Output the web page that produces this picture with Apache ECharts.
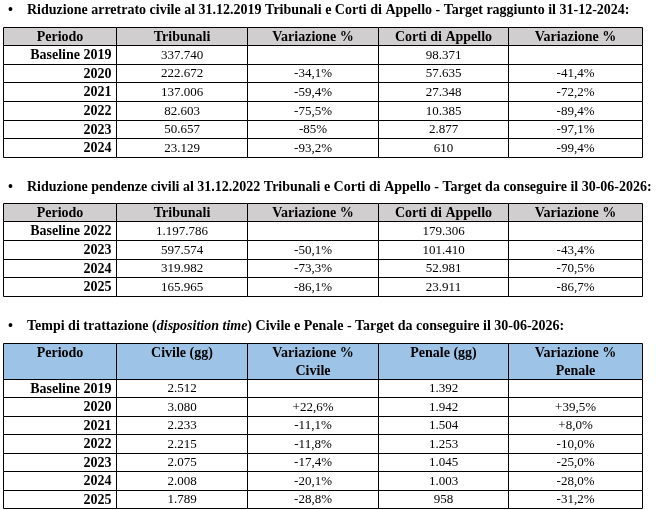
<!DOCTYPE html>
<html>
<head>
<meta charset="utf-8">
<script src="https://cdn.jsdelivr.net/npm/echarts@6/dist/echarts.min.js"></script>
<style>
  html, body { margin: 0; padding: 0; background: #fff; }
  #main { width: 657px; height: 510px; }
</style>
</head>
<body>
<div id="main"></div>
<script>
// --- dati tabella 1: arretrato civile al 31.12.2019
var periodi1 = ['Baseline 2019', '2020', '2021', '2022', '2023', '2024'];
var tribunali1 = [337740, 222672, 137006, 82603, 50657, 23129];
var varTribunali1 = [null, -34.1, -59.4, -75.5, -85, -93.2];
var corti1 = [98371, 57635, 27348, 10385, 2877, 610];
var varCorti1 = [null, -41.4, -72.2, -89.4, -97.1, -99.4];

// --- dati tabella 2: pendenze civili al 31.12.2022
var periodi2 = ['Baseline 2022', '2023', '2024', '2025'];
var tribunali2 = [1197786, 597574, 319982, 165965];
var varTribunali2 = [null, -50.1, -73.3, -86.1];
var corti2 = [179306, 101410, 52981, 23911];
var varCorti2 = [null, -43.4, -70.5, -86.7];

// --- dati tabella 3: disposition time
var periodi3 = ['Baseline 2019', '2020', '2021', '2022', '2023', '2024', '2025'];
var civile3 = [2512, 3080, 2233, 2215, 2075, 2008, 1789];
var varCivile3 = [null, 22.6, -11.1, -11.8, -17.4, -20.1, -28.8];
var penale3 = [1392, 1942, 1504, 1253, 1045, 1003, 958];
var varPenale3 = [null, 39.5, 8.0, -10.0, -25.0, -28.0, -31.2];

var header12 = ['Periodo', 'Tribunali', 'Variazione %', 'Corti di Appello', 'Variazione %'];
var header3 = ['Periodo', 'Civile (gg)', 'Variazione %\nCivile', 'Penale (gg)', 'Variazione %\nPenale'];

var titoli = [
    '{b|Riduzione arretrato civile al 31.12.2019 Tribunali e Corti di Appello - Target raggiunto il 31-12-2024:}',
    '{b|Riduzione pendenze civili al 31.12.2022 Tribunali e Corti di Appello - Target da conseguire il 30-06-2026:}',
    '{b|Tempi di trattazione (}{i|disposition time}{b|) Civile e Penale - Target da conseguire il 30-06-2026}{n|:}'
];

// layout
var colEdges = [0, 113, 244, 375, 505, 639];
var FONT = 'Liberation Serif';

function migliaia(v) {
    return String(v).replace(/\B(?=(\d{3})+(?!\d))/g, '.');
}
function perc(v) {
    if (v === null) return '';
    return String(v).replace('.', ',') + '%';
}
function percSegno(v) {
    if (v === null) return '';
    return (v > 0 ? '+' : '') + v.toFixed(1).replace('.', ',') + '%';
}

function buildCells(header, periodi, cols) {
    var cells = [];
    header.forEach(function (h, c) {
        cells.push({ c: c, r: 0, text: h, head: true });
    });
    periodi.forEach(function (p, i) {
        cells.push({ c: 0, r: i + 1, text: p, first: true });
        cols.forEach(function (col, j) {
            cells.push({ c: j + 1, r: i + 1, text: col[i] });
        });
    });
    return cells;
}

var tabelle = [
    {
        top: 27, headH: 18, rowH: 18.67, headColor: '#d0cece', headTop: false,
        cells: buildCells(header12, periodi1, [
            tribunali1.map(migliaia), varTribunali1.map(perc),
            corti1.map(migliaia), varCorti1.map(perc)])
    },
    {
        top: 203, headH: 18, rowH: 18.75, headColor: '#d0cece', headTop: false,
        cells: buildCells(header12, periodi2, [
            tribunali2.map(migliaia), varTribunali2.map(perc),
            corti2.map(migliaia), varCorti2.map(perc)])
    },
    {
        top: 343, headH: 36, rowH: 18.43, headColor: '#9dc3e6', headTop: true,
        cells: buildCells(header3, periodi3, [
            civile3.map(migliaia), varCivile3.map(percSegno),
            penale3.map(migliaia), varPenale3.map(percSegno)])
    }
];
tabelle[0].nRows = periodi1.length;
tabelle[1].nRows = periodi2.length;
tabelle[2].nRows = periodi3.length;

var grid = [], xAxis = [], yAxis = [], series = [];
tabelle.forEach(function (t, k) {
    var h = t.headH + t.nRows * t.rowH;
    grid.push({ left: 3, top: t.top, width: colEdges[5], height: h });
    xAxis.push({ type: 'value', gridIndex: k, min: 0, max: colEdges[5], show: false });
    yAxis.push({ type: 'value', gridIndex: k, min: 0, max: h, inverse: true, show: false });

    function rowEdge(r) {
        return r === 0 ? 0 : t.headH + (r - 1) * t.rowH;
    }

    series.push({
        type: 'custom',
        xAxisIndex: k,
        yAxisIndex: k,
        silent: true,
        data: t.cells.map(function (c) { return [c.c, c.r]; }),
        renderItem: function (params, api) {
            var cell = t.cells[params.dataIndex];
            var c = api.value(0), r = api.value(1);
            var p0 = api.coord([colEdges[c], rowEdge(r)]);
            var p1 = api.coord([colEdges[c + 1], rowEdge(r + 1)]);
            var x0 = Math.round(p0[0]) + 0.5, y0 = Math.round(p0[1]) + 0.5;
            var x1 = Math.round(p1[0]) + 0.5, y1 = Math.round(p1[1]) + 0.5;
            var bold = cell.head || cell.first;
            var tx, align;
            if (cell.first) { tx = x1 - 5; align = 'right'; }
            else { tx = (x0 + x1) / 2; align = 'center'; }
            var ty, valign;
            if (cell.head && t.headTop) { ty = y0 + 1; valign = 'top'; }
            else { ty = (y0 + y1) / 2 + 0.5; valign = 'middle'; }
            return {
                type: 'group',
                children: [
                    {
                        type: 'rect',
                        shape: { x: x0, y: y0, width: x1 - x0, height: y1 - y0 },
                        style: { fill: cell.head ? t.headColor : '#fff', stroke: '#000', lineWidth: 1 }
                    },
                    {
                        type: 'text',
                        style: {
                            x: tx, y: ty, text: cell.text,
                            align: align, verticalAlign: valign,
                            fontFamily: FONT,
                            fontSize: bold ? 14 : 13,
                            fontWeight: bold ? 'bold' : 'normal',
                            lineHeight: 18,
                            fill: '#000'
                        }
                    }
                ]
            };
        }
    });
});

var titleTops = [3, 180, 319];
var title = titoli.map(function (txt, i) {
    return {
        text: '{bl|•}' + txt,
        left: 8,
        top: titleTops[i],
        padding: 0,
        textStyle: {
            rich: {
                bl: { fontFamily: FONT, fontSize: 14, width: 19, fontWeight: 'bold', color: '#000' },
                b: { fontFamily: FONT, fontSize: 14, fontWeight: 'bold', color: '#000' },
                i: { fontFamily: FONT, fontSize: 14, fontWeight: 'bold', fontStyle: 'italic', color: '#000' },
                n: { fontFamily: FONT, fontSize: 14, color: '#000' }
            }
        }
    };
});

var myChart = echarts.init(document.getElementById('main'));
var option = {
    backgroundColor: '#fff',
    animation: false,
    title: title,
    grid: grid,
    xAxis: xAxis,
    yAxis: yAxis,
    series: series
};
option && myChart.setOption(option);
</script>
</body>
</html>
